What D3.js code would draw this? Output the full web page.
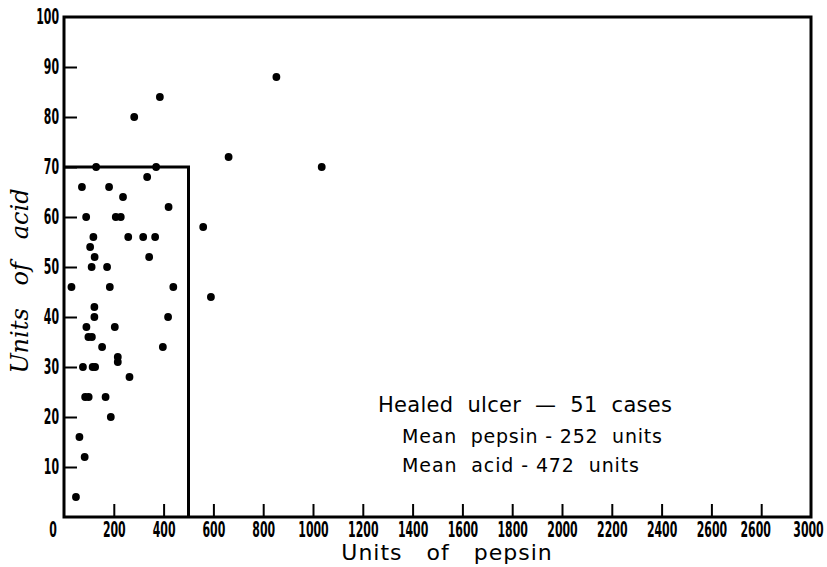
<!DOCTYPE html>
<html>
<head>
<meta charset="utf-8">
<script src="https://cdn.jsdelivr.net/npm/d3@7"></script>
<style>
  body { margin: 0; background: #fff; }
  svg { display: block; }
  .tick text, .zero { font-family: "DejaVu Sans", sans-serif; font-stretch: condensed; font-weight: bold; font-size: 21px; fill: #000; }
  .tick line { stroke: #000; stroke-width: 2px; }
  .note { font-family: "DejaVu Sans", sans-serif; fill: #000; white-space: pre; }
</style>
</head>
<body>
<div id="chart"></div>
<script>
// healed ulcer cases
var pepsin = [385, 282, 129, 370, 72, 181, 334, 237, 420, 89, 208, 228,
  118, 258, 318, 366, 105, 123, 342, 111, 173, 30, 184, 439, 122, 122,
  418, 90, 204, 98, 112, 153, 397, 216, 216, 76, 115, 125, 263, 85, 99,
  167, 188, 62, 83, 48, 853, 661, 1035, 559, 590];
var acid = [84, 80, 70, 70, 66, 66, 68, 64, 62, 60, 60, 60,
  56, 56, 56, 56, 54, 52, 52, 50, 50, 46, 46, 46, 42, 40,
  40, 38, 38, 36, 36, 34, 34, 32, 31, 30, 30, 30, 28, 24, 24,
  24, 20, 16, 12, 4, 88, 72, 70, 58, 44];

var xTicks = [200, 400, 600, 800, 1000, 1200, 1400, 1600, 1800, 2000, 2200, 2400, 2600, 2800, 3000];
var xTickLabels = ["200", "400", "600", "800", "1000", "1200", "1400", "1600", "1800", "2000", "2200", "2400", "2600", "2600", "3000"];
var yTicks = [10, 20, 30, 40, 50, 60, 70, 80, 90, 100];
var box = {pepsin: 500, acid: 70};
var notes = ["Healed  ulcer  \u2014  51  cases", "Mean  pepsin - 252  units", "Mean  acid - 472  units"];

var W = 827, H = 567;
var margin = {left: 64, top: 17, right: 16, bottom: 50};
var digitW = 7.6;

var svg = d3.select("#chart").append("svg").attr("width", W).attr("height", H);

var x = d3.scaleLinear().domain([0, 3000]).range([margin.left, W - margin.right]);
var y = d3.scaleLinear().domain([0, 100]).range([H - margin.bottom, margin.top]);

// squeeze the numbers into the narrow lettering of the original
function narrow(sel) {
  sel.attr("textLength", function () { return this.textContent.length * digitW; })
    .attr("lengthAdjust", "spacingAndGlyphs");
}

// x axis, ticks pointing inward
var xAxis = svg.append("g")
  .attr("transform", "translate(0," + y(0) + ")")
  .call(d3.axisBottom(x).tickValues(xTicks).tickSize(-13).tickPadding(5)
    .tickFormat(function (d, i) { return xTickLabels[i]; }));
xAxis.select(".domain").remove();
xAxis.selectAll(".tick text").call(narrow);
var lastTick = xAxis.selectAll(".tick").filter(function (d) { return d == 3000; });
lastTick.select("line").remove();
lastTick.select("text").attr("dx", -3);
xAxis.selectAll(".tick").filter(function (d) { return d == 2800; })
  .select("text").attr("dx", -6);
xAxis.append("text").attr("class", "zero")
  .attr("x", x(0) - 11).attr("y", 5).attr("dy", "0.71em")
  .attr("text-anchor", "middle")
  .text("0")
  .call(narrow);

var yAxis = svg.append("g")
  .attr("transform", "translate(" + x(0) + ",0)")
  .call(d3.axisLeft(y).tickValues(yTicks).tickSize(-13).tickPadding(5));
yAxis.select(".domain").remove();
yAxis.selectAll(".tick").filter(function (d) { return d == 100; }).select("line").remove();
yAxis.selectAll(".tick text").call(narrow);

// outer frame
svg.append("rect")
  .attr("x", x(0)).attr("y", y(100))
  .attr("width", x(3000) - x(0)).attr("height", y(0) - y(100))
  .attr("fill", "none").attr("stroke", "#000").attr("stroke-width", 3);

// inner box
svg.append("path")
  .attr("d", "M" + x(0) + "," + y(box.acid) + "H" + x(box.pepsin) + "V" + y(0))
  .attr("fill", "none").attr("stroke", "#000").attr("stroke-width", 3);

svg.append("g")
  .selectAll("circle")
  .data(pepsin)
  .enter().append("circle")
  .attr("cx", function (d) { return x(d); })
  .attr("cy", function (d, i) { return y(acid[i]); })
  .attr("r", 3.9)
  .attr("fill", "#000");

// axis titles
svg.append("text").attr("class", "note")
  .attr("x", 447).attr("y", 560)
  .attr("text-anchor", "middle")
  .style("font-size", "22px").style("letter-spacing", "1px")
  .text("Units   of   pepsin");

svg.append("text").attr("class", "note")
  .attr("transform", "translate(28,281) rotate(-90)")
  .attr("text-anchor", "middle")
  .style("font-family", "\"DejaVu Serif\", serif")
  .style("font-style", "italic")
  .style("font-size", "24px")
  .text("Units   of   acid");

var noteX = [378, 402, 402];
var noteY = [412, 443, 472];
var noteW = [294, 260, 237];
svg.append("g").selectAll("text")
  .data(notes)
  .enter().append("text").attr("class", "note")
  .attr("x", function (d, i) { return noteX[i]; })
  .attr("y", function (d, i) { return noteY[i]; })
  .attr("textLength", function (d, i) { return noteW[i]; })
  .attr("lengthAdjust", "spacing")
  .style("font-size", function (d, i) { return i == 0 ? "21px" : "19px"; })
  .text(function (d) { return d; });
</script>
</body>
</html>
